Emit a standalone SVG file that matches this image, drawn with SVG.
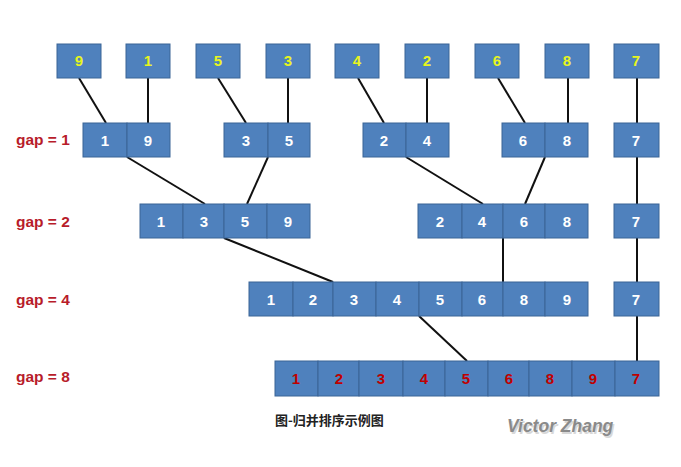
<svg xmlns="http://www.w3.org/2000/svg" width="681" height="467" viewBox="0 0 681 467">
<style>
.c{fill:#4F81BD;stroke:#3B6496;stroke-width:1}
.n{font-family:"Liberation Sans",Arial,sans-serif;font-weight:bold;font-size:15px;text-anchor:middle}
.y{fill:#E8F51E}
.w{fill:#FFFFFF}
.r{fill:#C00000}
.g{font-family:"Liberation Sans",Arial,sans-serif;font-weight:bold;font-size:15.5px;fill:#B81C2A}
.l{stroke:#111;stroke-width:2;fill:none}
</style>
<rect width="681" height="467" fill="#FFFFFF"/>
<g id="connectors">
<line class="l" x1="79" y1="78" x2="106" y2="123"/>
<line class="l" x1="148" y1="78" x2="148" y2="123"/>
<line class="l" x1="218" y1="78" x2="246" y2="123"/>
<line class="l" x1="288" y1="78" x2="288" y2="123"/>
<line class="l" x1="358" y1="78" x2="384" y2="123"/>
<line class="l" x1="427" y1="78" x2="427" y2="123"/>
<line class="l" x1="498" y1="78" x2="525" y2="123"/>
<line class="l" x1="568" y1="78" x2="568" y2="123"/>
<line class="l" x1="637" y1="78" x2="637" y2="123"/>
<line class="l" x1="127" y1="157" x2="205" y2="204"/>
<line class="l" x1="268" y1="157" x2="247" y2="204"/>
<line class="l" x1="406" y1="157" x2="483" y2="204"/>
<line class="l" x1="545" y1="157" x2="525" y2="204"/>
<line class="l" x1="637" y1="157" x2="637" y2="204"/>
<line class="l" x1="224" y1="238" x2="333" y2="282"/>
<line class="l" x1="503" y1="238" x2="503" y2="282"/>
<line class="l" x1="637" y1="238" x2="637" y2="282"/>
<line class="l" x1="419" y1="316" x2="467" y2="361"/>
<line class="l" x1="637" y1="316" x2="637" y2="361"/>
</g>
<g id="labels">
<text class="g" x="16" y="145">gap = 1</text>
<text class="g" x="16" y="227">gap = 2</text>
<text class="g" x="16" y="305">gap = 4</text>
<text class="g" x="16" y="382">gap = 8</text>
</g>
<g id="row0">
<rect class="c" x="57" y="44" width="44" height="34"/><text class="n y" x="79" y="66">9</text>
<rect class="c" x="126" y="44" width="44" height="34"/><text class="n y" x="148" y="66">1</text>
<rect class="c" x="196" y="44" width="44" height="34"/><text class="n y" x="218" y="66">5</text>
<rect class="c" x="266" y="44" width="44" height="34"/><text class="n y" x="288" y="66">3</text>
<rect class="c" x="335" y="44" width="44" height="34"/><text class="n y" x="357" y="66">4</text>
<rect class="c" x="405" y="44" width="44" height="34"/><text class="n y" x="427" y="66">2</text>
<rect class="c" x="475" y="44" width="44" height="34"/><text class="n y" x="497" y="66">6</text>
<rect class="c" x="545" y="44" width="44" height="34"/><text class="n y" x="567" y="66">8</text>
<rect class="c" x="614" y="44" width="45" height="34"/><text class="n y" x="636" y="66">7</text>
</g>
<g id="gap1">
<rect class="c" x="83" y="123" width="44" height="34"/><text class="n w" x="105" y="146">1</text>
<rect class="c" x="127" y="123" width="43" height="34"/><text class="n w" x="148" y="146">9</text>
<rect class="c" x="224" y="123" width="44" height="34"/><text class="n w" x="246" y="146">3</text>
<rect class="c" x="268" y="123" width="42" height="34"/><text class="n w" x="289" y="146">5</text>
<rect class="c" x="363" y="123" width="43" height="34"/><text class="n w" x="384" y="146">2</text>
<rect class="c" x="406" y="123" width="43" height="34"/><text class="n w" x="427" y="146">4</text>
<rect class="c" x="502" y="123" width="43" height="34"/><text class="n w" x="523" y="146">6</text>
<rect class="c" x="545" y="123" width="43" height="34"/><text class="n w" x="567" y="146">8</text>
<rect class="c" x="614" y="123" width="45" height="34"/><text class="n w" x="636" y="146">7</text>
</g>
<g id="gap2">
<rect class="c" x="140" y="204" width="43" height="34"/><text class="n w" x="161" y="227">1</text>
<rect class="c" x="183" y="204" width="41" height="34"/><text class="n w" x="204" y="227">3</text>
<rect class="c" x="224" y="204" width="43" height="34"/><text class="n w" x="245" y="227">5</text>
<rect class="c" x="267" y="204" width="43" height="34"/><text class="n w" x="288" y="227">9</text>
<rect class="c" x="418" y="204" width="44" height="34"/><text class="n w" x="440" y="227">2</text>
<rect class="c" x="462" y="204" width="41" height="34"/><text class="n w" x="482" y="227">4</text>
<rect class="c" x="503" y="204" width="42" height="34"/><text class="n w" x="524" y="227">6</text>
<rect class="c" x="545" y="204" width="43" height="34"/><text class="n w" x="567" y="227">8</text>
<rect class="c" x="614" y="204" width="45" height="34"/><text class="n w" x="636" y="227">7</text>
</g>
<g id="gap4">
<rect class="c" x="249" y="282" width="44" height="34"/><text class="n w" x="271" y="305">1</text>
<rect class="c" x="293" y="282" width="40" height="34"/><text class="n w" x="313" y="305">2</text>
<rect class="c" x="333" y="282" width="43" height="34"/><text class="n w" x="354" y="305">3</text>
<rect class="c" x="376" y="282" width="43" height="34"/><text class="n w" x="397" y="305">4</text>
<rect class="c" x="419" y="282" width="43" height="34"/><text class="n w" x="440" y="305">5</text>
<rect class="c" x="462" y="282" width="41" height="34"/><text class="n w" x="482" y="305">6</text>
<rect class="c" x="503" y="282" width="42" height="34"/><text class="n w" x="524" y="305">8</text>
<rect class="c" x="545" y="282" width="43" height="34"/><text class="n w" x="567" y="305">9</text>
<rect class="c" x="614" y="282" width="45" height="34"/><text class="n w" x="636" y="305">7</text>
</g>
<g id="gap8">
<rect class="c" x="275" y="361" width="43" height="35"/><text class="n r" x="296" y="384">1</text>
<rect class="c" x="318" y="361" width="41" height="35"/><text class="n r" x="339" y="384">2</text>
<rect class="c" x="359" y="361" width="44" height="35"/><text class="n r" x="381" y="384">3</text>
<rect class="c" x="403" y="361" width="42" height="35"/><text class="n r" x="424" y="384">4</text>
<rect class="c" x="445" y="361" width="43" height="35"/><text class="n r" x="466" y="384">5</text>
<rect class="c" x="488" y="361" width="41" height="35"/><text class="n r" x="509" y="384">6</text>
<rect class="c" x="529" y="361" width="43" height="35"/><text class="n r" x="550" y="384">8</text>
<rect class="c" x="572" y="361" width="43" height="35"/><text class="n r" x="593" y="384">9</text>
<rect class="c" x="615" y="361" width="44" height="35"/><text class="n r" x="636" y="384">7</text>
</g>
<g id="caption">
<text x="275" y="425" font-family="'Noto Sans CJK SC','Liberation Sans',sans-serif" font-size="13" font-weight="bold" fill="#222">图-归并排序示例图</text>
</g>
<g id="signature">
<text x="508.5" y="433.5" font-family="'Liberation Sans',Arial,sans-serif" font-size="17.5" font-weight="bold" font-style="italic" fill="#D8D8D8">Victor Zhang</text>
<text x="507" y="432" font-family="'Liberation Sans',Arial,sans-serif" font-size="17.5" font-weight="bold" font-style="italic" fill="#8A8A8A">Victor Zhang</text>
</g>
</svg>
